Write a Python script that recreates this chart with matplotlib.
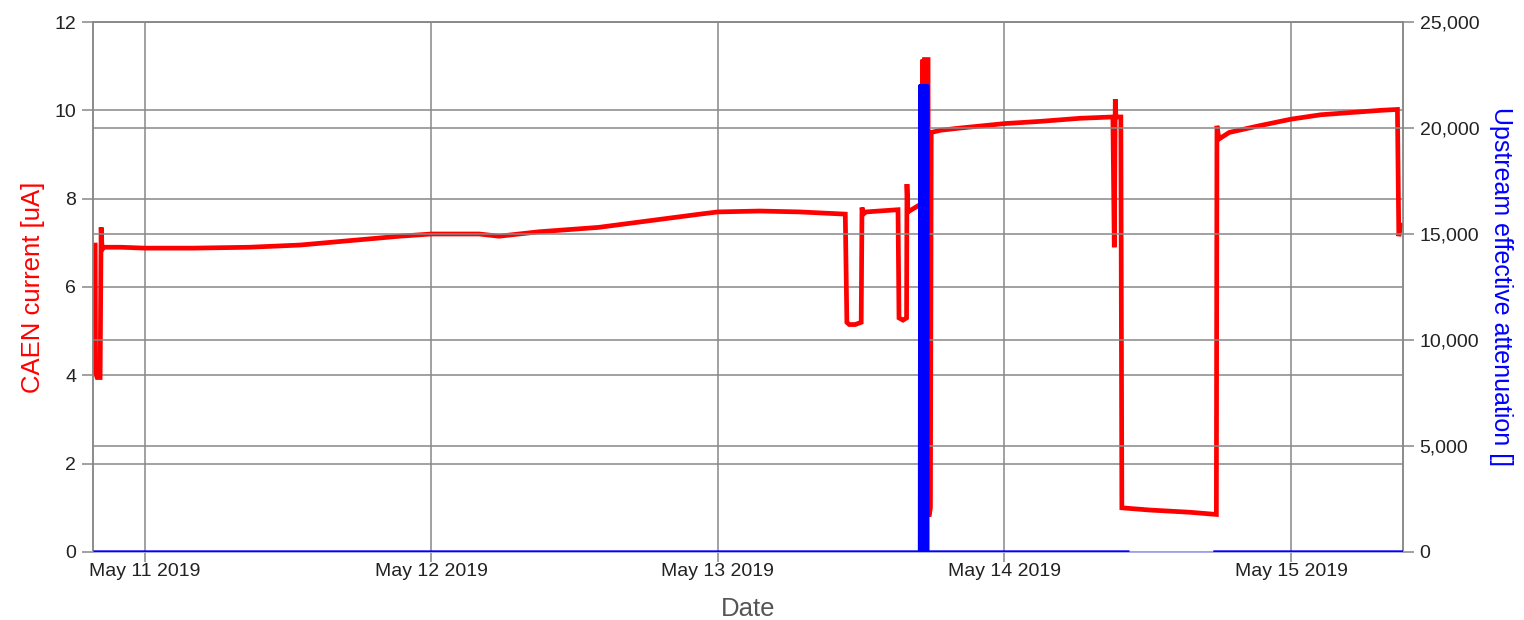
import matplotlib
matplotlib.use("Agg")
import matplotlib.pyplot as plt
import matplotlib.dates as mdates
import matplotlib.ticker as mticker
import pandas as pd
import numpy as np

plt.rcParams['font.family'] = ['Liberation Sans', 'DejaVu Sans']

# CAEN current [uA] (red, left axis)
red_times = [
    "2019-05-10 19:50", "2019-05-10 19:52", "2019-05-10 20:00", "2019-05-10 20:15",
    "2019-05-10 20:20", "2019-05-10 20:25", "2019-05-10 20:35", "2019-05-10 22:00",
    "2019-05-11 00:00", "2019-05-11 04:00", "2019-05-11 08:45", "2019-05-11 13:00",
    "2019-05-11 17:10", "2019-05-11 21:20", "2019-05-12 00:00", "2019-05-12 04:00",
    "2019-05-12 05:40", "2019-05-12 09:00", "2019-05-12 14:00", "2019-05-12 18:15",
    "2019-05-12 22:30", "2019-05-13 00:00", "2019-05-13 03:30", "2019-05-13 06:50",
    "2019-05-13 10:40", "2019-05-13 10:48", "2019-05-13 11:00", "2019-05-13 11:30",
    "2019-05-13 12:00", "2019-05-13 12:04", "2019-05-13 12:10", "2019-05-13 12:25",
    "2019-05-13 15:05", "2019-05-13 15:10", "2019-05-13 15:30", "2019-05-13 15:48",
    "2019-05-13 15:50", "2019-05-13 15:55", "2019-05-13 16:50", "2019-05-13 17:08",
    "2019-05-13 17:10", "2019-05-13 17:14", "2019-05-13 17:18", "2019-05-13 17:36",
    "2019-05-13 17:40", "2019-05-13 17:48", "2019-05-13 17:52", "2019-05-13 18:40",
    "2019-05-13 20:20", "2019-05-14 00:00", "2019-05-14 03:00", "2019-05-14 06:20",
    "2019-05-14 09:05", "2019-05-14 09:12", "2019-05-14 09:17", "2019-05-14 09:20",
    "2019-05-14 09:25", "2019-05-14 09:45", "2019-05-14 09:50", "2019-05-14 12:10",
    "2019-05-14 15:30", "2019-05-14 17:45", "2019-05-14 17:48", "2019-05-14 17:58",
    "2019-05-14 18:50", "2019-05-14 21:20", "2019-05-15 00:00", "2019-05-15 02:30",
    "2019-05-15 05:00", "2019-05-15 07:30", "2019-05-15 08:55", "2019-05-15 09:02",
    "2019-05-15 09:10", "2019-05-15 09:25",
]
red_values = [
    6.95, 4.05, 3.95, 3.95,
    7.35, 6.85, 6.9, 6.9,
    6.88, 6.88, 6.9, 6.95,
    7.05, 7.15, 7.2, 7.2,
    7.15, 7.25, 7.35, 7.5,
    7.65, 7.7, 7.72, 7.7,
    7.65, 5.2, 5.15, 5.15,
    5.2, 7.8, 7.65, 7.7,
    7.75, 5.3, 5.25, 5.3,
    8.33, 7.7, 7.85, 7.85,
    11.15, 1.0, 11.15, 11.15,
    0.8, 1.0, 9.5, 9.55,
    9.6, 9.7, 9.75, 9.82,
    9.85, 6.9, 10.25, 9.85,
    9.85, 9.85, 1.0, 0.95,
    0.9, 0.85, 9.65, 9.35,
    9.5, 9.65, 9.8, 9.9,
    9.95, 10.0, 10.02, 7.15,
    7.4, 7.4,
]

# Upstream effective attenuation [] (blue, right axis)
blue_times = [
    "2019-05-10 19:50", "2019-05-13 16:53",
    "2019-05-13 16:55", "2019-05-13 16:57", "2019-05-13 16:59", "2019-05-13 17:01",
    "2019-05-13 17:03", "2019-05-13 17:05", "2019-05-13 17:07", "2019-05-13 17:09",
    "2019-05-13 17:18", "2019-05-13 17:20", "2019-05-13 17:22", "2019-05-13 17:24",
    "2019-05-13 17:26", "2019-05-13 17:28", "2019-05-13 17:30", "2019-05-13 17:32",
    "2019-05-13 17:34", "2019-05-13 17:35",
    "2019-05-14 10:20", "2019-05-14 10:21", "2019-05-14 17:37", "2019-05-14 17:38",
    "2019-05-15 09:25",
]
blue_values = [
    0, 0,
    22000, 0, 22000, 0,
    22000, 0, 22000, 0,
    22000, 0, 22000, 0,
    22000, 0, 22000, 0,
    22000, 0,
    0, np.nan, np.nan, 0,
    0,
]

left_ticks = [0, 2, 4, 6, 8, 10, 12]
right_ticks = [0, 5000, 10000, 15000, 20000, 25000]

rt = pd.to_datetime(red_times)
bt = pd.to_datetime(blue_times)

fig = plt.figure(figsize=(15.24, 6.2), dpi=100)
ax = fig.add_axes([0.061, 0.1097, 0.8596, 0.8548])
ax2 = ax.twinx()

grid_c = '#888888'
ax.plot(rt, red_values, color='#ff0000', lw=3.4, zorder=3, solid_joinstyle='miter')
ax2.plot(bt, blue_values, color='#0000ff', lw=2.4, zorder=4)

ax.set_xlim(pd.Timestamp("2019-05-10 19:39"), pd.Timestamp("2019-05-15 09:23"))
ax.set_ylim(0, 12)
ax2.set_ylim(0, 25000)
ax.set_yticks(left_ticks)
ax2.set_yticks(right_ticks)
ax2.yaxis.set_major_formatter(mticker.FuncFormatter(lambda v, p: f"{int(v):,}"))

ax.xaxis.set_major_locator(mdates.DayLocator())
ax.xaxis.set_major_formatter(mdates.DateFormatter('%b %d %Y'))

ax.grid(True, color=grid_c, lw=1.1)
ax2.grid(True, axis='y', color=grid_c, lw=1.1)
ax.set_axisbelow(True)
ax2.set_axisbelow(True)

for a in (ax, ax2):
    for s in a.spines.values():
        s.set_color(grid_c)
        s.set_linewidth(1.1)
    a.tick_params(axis='y', length=8, width=1.1, color=grid_c,
                  labelsize=14, labelcolor='#222222', pad=4)
ax.tick_params(axis='x', length=7, width=1.1, color=grid_c,
               labelsize=14, labelcolor='#222222', pad=1)
ax.spines['bottom'].set_color('#a8a8e8')
ax2.spines['bottom'].set_color('#a8a8e8')

ax.set_ylabel('CAEN current [uA]', color='#ff0000', fontsize=18.5, labelpad=7)
ax2.set_ylabel('Upstream effective attenuation []', color='#0000ff', fontsize=18,
               rotation=270, labelpad=24)
ax.set_xlabel('Date', color='#555555', fontsize=18.5, labelpad=12)

fig.savefig('out.png', dpi=100)
